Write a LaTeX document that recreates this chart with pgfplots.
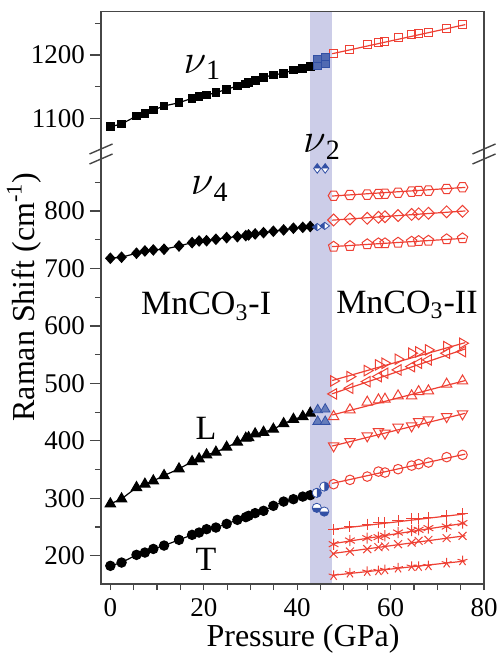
\documentclass[border=0pt]{standalone}
\usepackage{fontspec}
\setmainfont{Liberation Serif}
\usepackage{pgfplots}
\pgfplotsset{compat=1.18}
\usepackage{pgfplotstable}
\usetikzlibrary{plotmarks}

\definecolor{redm}{RGB}{238,64,52}
\definecolor{bluem}{RGB}{50,80,165}
\definecolor{band}{RGB}{204,205,232}
\definecolor{spine}{RGB}{70,70,70}

\pgfdeclareplotmark{hexagon}{%
  \pgfpathmoveto{\pgfqpoint{\pgfplotmarksize}{0pt}}%
  \pgfpathlineto{\pgfqpoint{0.5\pgfplotmarksize}{0.866\pgfplotmarksize}}%
  \pgfpathlineto{\pgfqpoint{-0.5\pgfplotmarksize}{0.866\pgfplotmarksize}}%
  \pgfpathlineto{\pgfqpoint{-\pgfplotmarksize}{0pt}}%
  \pgfpathlineto{\pgfqpoint{-0.5\pgfplotmarksize}{-0.866\pgfplotmarksize}}%
  \pgfpathlineto{\pgfqpoint{0.5\pgfplotmarksize}{-0.866\pgfplotmarksize}}%
  \pgfpathclose\pgfusepathqstroke}

\pgfplotstableread{
P nu1 nu4 L T
0 1086.7 717.7 290.4 182.6
2.4 1091.0 719.5 299.1 188.3
5.6 1103.6 726.5 318.8 201.7
7.4 1107.9 730.4 324.7 205.7
9.2 1113.1 732.2 330.4 212.0
11.5 1119.4 733.4 339.7 217.9
14.7 1124.6 739.1 351.3 227.8
17.5 1131.6 744.9 364.0 236.5
19.0 1134.1 747.8 368.7 240.5
20.6 1136.8 748.3 375.7 246.4
22.6 1140.4 750.8 380.3 249.2
24.9 1145.8 753.6 389.0 255.6
27.2 1151.0 755.3 397.7 262.6
29.0 1154.2 757.1 404.6 267.3
29.6 1156.0 758.3 405.7 269.6
31.0 1159.4 760.0 412.2 274.3
32.8 1164.8 762.3 415.0 278.3
34.9 1168.4 764.7 420.3 287.0
37.1 1171.1 767.0 430.0 294.4
39.2 1176.3 770.0 437.5 298.6
41.2 1179.0 771.5 442.3 303.1
42.8 1181.5 773.0 448.2 305.5
}\phaseI

\pgfplotstableread{
P sq hex dia pen rt lt up dn ci pl as xx st
47.8 1202.7 826.6 784.3 737.9 504.3 481.7 442.3 391.3 324.7 245.2 220.3 203.5 165.7
51.3 1209.0 827.8 786.1 739.1 511.8 491.6 453.9 398.8 332.2 251.0 226.6 207.5 169.9
55.0 1216.9 828.5 787.3 742.1 522.3 503.1 467.3 408.7 337.9 255.1 230.8 211.7 172.7
57.4 1219.4 829.6 789.0 743.8 532.2 511.8 471.3 416.2 346.6 257.9 232.5 215.1 173.9
58.8 1221.0 830.0 790.0 743.8 535.0 517.7 472.5 413.4 344.9 257.9 234.8 216.2 175.7
61.6 1227.3 831.8 792.0 744.9 542.1 523.5 478.3 423.8 350.8 260.9 240.5 220.3 178.6
64.5 1231.6 833.6 794.0 746.6 552.5 529.2 478.3 426.1 357.0 264.3 244.0 223.1 181.4
66.0 1234.3 834.8 795.0 747.8 554.8 535.1 485.7 433.6 359.5 264.3 245.2 226.1 181.4
68.1 1235.8 835.4 796.0 748.3 558.3 540.9 487.0 436.5 362.3 266.6 248.2 227.8 182.6
72.0 1242.2 838.3 798.5 750.8 564.0 552.5 498.6 442.3 371.7 269.6 251.0 230.8 187.3
75.4 1247.4 841.2 799.5 752.5 569.9 555.3 504.3 447.0 375.7 273.0 256.9 234.8 191.3
}\phaseII

\pgfplotstableread{
P sq hex dia pen rt lt up dn ci pl as xx st
47.5 1202 826 784 738 505 482 445 391 326 246 221 204 166
76.0 1248 841 800 752.5 571 560 505 448 377 273 257 235 191
}\fitII

\pgfplotsset{
  common/.style={
    scale only axis, width=191.5pt, xmin=-2, xmax=80, clip=false,
    axis line style={draw=none},
    tick align=outside, tick pos=left,
    major tick length=5.5pt, minor tick length=3pt,
    tick style={spine, line width=0.6pt},
    major x tick style={draw=none},
    ticklabel style={font=\fontsize{13.5}{13.5}\selectfont},
    /pgf/number format/assume math mode=true,
    /pgf/number format/1000 sep={},
  },
  rline/.style={redm, line width=0.6pt, forget plot},
  rmark/.style={only marks, redm, line width=0.5pt, forget plot},
}
\newcommand{\annfont}{\fontsize{17}{17}\selectfont}
\newcommand{\nufont}{\fontsize{20}{20}\selectfont}

\begin{document}
\begin{tikzpicture}
\path[use as bounding box] (-50.5pt,-34.5pt) rectangle (198pt,292pt);

% ---------------- bottom axis ----------------
\begin{axis}[common, at={(0,0)}, anchor=south west, height=214.5pt,
  ymin=151, ymax=897.4,
  xtick={0,20,40,60,80}, minor xtick={0,5,...,80},
  ytick={200,300,...,800}, minor ytick={250,350,...,850},
  xticklabel style={yshift=2pt}, yticklabel style={xshift=1pt}]
\addplot[fill=band, draw=none, forget plot] coordinates {(42.76,151) (47.47,151) (47.47,897.4) (42.76,897.4)} -- cycle;

% phase I lines and marks
\addplot[black, line width=0.6pt, mark=diamond*, mark size=2.5pt, mark options={xscale=1.2}] table[x=P,y=nu4]{\phaseI};
\addplot[black, line width=0.6pt, mark=triangle*, mark size=2.9pt] table[x=P,y=L]{\phaseI};
\addplot[black, line width=0.6pt, mark=*, mark size=2.3pt] table[x=P,y=T]{\phaseI};

% phase II fit lines
\addplot[rline] table[x=P,y=hex]{\fitII};
\addplot[rline] table[x=P,y=dia]{\fitII};
\addplot[rline] table[x=P,y=pen]{\fitII};
\addplot[rline] table[x=P,y=rt]{\fitII};
\addplot[rline] table[x=P,y=lt]{\fitII};
\addplot[rline] table[x=P,y=up]{\fitII};
\addplot[rline] table[x=P,y=dn]{\fitII};
\addplot[rline] table[x=P,y=ci]{\fitII};
\addplot[rline] table[x=P,y=pl]{\fitII};
\addplot[rline] table[x=P,y=as]{\fitII};
\addplot[rline] table[x=P,y=xx]{\fitII};
\addplot[rline] table[x=P,y=st]{\fitII};

% phase II marks
\addplot[rmark, mark=hexagon, mark size=2.7pt] table[x=P,y=hex]{\phaseII};
\addplot[rmark, mark=square, mark size=2.1pt, mark options={rotate=45}] table[x=P,y=dia]{\phaseII};
\addplot[rmark, mark=pentagon, mark size=2.7pt] table[x=P,y=pen]{\phaseII};
\addplot[rmark, mark=triangle, mark size=3pt, mark options={rotate=-90}] table[x=P,y=rt]{\phaseII};
\addplot[rmark, mark=triangle, mark size=3pt, mark options={rotate=90}] table[x=P,y=lt]{\phaseII};
\addplot[rmark, mark=triangle, mark size=3pt] table[x=P,y=up]{\phaseII};
\addplot[rmark, mark=triangle, mark size=3pt, mark options={rotate=180}] table[x=P,y=dn]{\phaseII};
\addplot[rmark, mark=o, mark size=2.4pt] table[x=P,y=ci]{\phaseII};
\addplot[rmark, mark=+, mark size=2.8pt] table[x=P,y=pl]{\phaseII};
\addplot[rmark, mark=asterisk, mark size=2.8pt] table[x=P,y=as]{\phaseII};
\addplot[rmark, mark=x, mark size=2.8pt] table[x=P,y=xx]{\phaseII};
\addplot[rmark, mark=star, mark size=2.6pt] table[x=P,y=st]{\phaseII};

% transition region (blue half-filled marks)
\addplot[only marks, mark=halfdiamond*, mark size=2.4pt, mark options={draw=bluem, fill=white, mark color=bluem}] coordinates {(44.3,874) (46.0,874)};
\addplot[only marks, mark=halfdiamond*, mark size=2.4pt, mark options={draw=bluem, fill=white, mark color=bluem, rotate=90}] coordinates {(44.3,772) (45.9,774)};
\addplot[only marks, mark=triangle*, mark size=2.8pt, mark options={draw=bluem, fill=bluem!75}] coordinates {(44.4,453.9) (46.0,455) (44.4,433.6) (46.0,433.6)};
\addplot[only marks, mark=halfcircle*, mark size=2.3pt, mark options={draw=bluem, fill=white, mark color=bluem, rotate=90}] coordinates {(44.2,309.6) (45.8,320.5)};
\addplot[only marks, mark=halfcircle*, mark size=2.3pt, mark options={draw=bluem, fill=white, mark color=bluem}] coordinates {(44.2,283.5) (45.8,277)};

% spines
\draw[spine, line width=0.7pt] (rel axis cs:0,1) -- (rel axis cs:0,0) -- (rel axis cs:1,0) -- (rel axis cs:1,1);

% annotations
\node[font=\annfont] at (axis cs:20.5,634) {MnCO\textsubscript{3}-I};
\node[font=\annfont] at (axis cs:63.5,637) {MnCO\textsubscript{3}-II};
\node[font=\nufont] at (axis cs:21.3,838) {$\nu$\textsubscript{4}};
\node[font=\annfont] at (axis cs:20.5,422.6) {L};
\node[font=\annfont] at (axis cs:20.5,193) {T};
\end{axis}

% ---------------- top axis ----------------
\begin{axis}[common, at={(0,214.5pt)}, anchor=south west, height=71.65pt,
  ymin=1042, ymax=1268.4,
  xtick=\empty, ytick={1100,1200}, minor ytick={1150,1250},
  yticklabel style={xshift=1pt}]
\addplot[fill=band, draw=none, forget plot] coordinates {(42.76,1042) (47.47,1042) (47.47,1268.4) (42.76,1268.4)} -- cycle;
\addplot[black, line width=0.6pt, mark=square*, mark size=1.9pt] table[x=P,y=nu1]{\phaseI};
\addplot[rline] table[x=P,y=sq]{\fitII};
\addplot[rmark, mark=square, mark size=2pt] table[x=P,y=sq]{\phaseII};
\addplot[only marks, mark=square*, mark size=1.9pt, mark options={draw=bluem, fill=bluem!85}] coordinates {(44.3,1193.7) (44.3,1182.6) (46.0,1196.8) (46.0,1185.8)};
\draw[spine, line width=0.7pt] (rel axis cs:0,0) -- (rel axis cs:0,1) -- (rel axis cs:1,1) -- (rel axis cs:1,0);
\node[font=\nufont] at (axis cs:19.7,1180) {$\nu$\textsubscript{1}};
\end{axis}

% nu2 label (in the gap between the two panels)
\node[font=\nufont] at (110.5pt,218.5pt) {$\nu$\textsubscript{2}};

% axis break marks
\foreach \yy in {212.5pt,217.5pt} {
  \draw[spine, line width=0.7pt] (-5.75pt,\yy-2.5pt) -- (5.75pt,\yy+2.5pt);
  \draw[spine, line width=0.7pt] (185.75pt,\yy-2.5pt) -- (197.25pt,\yy+2.5pt);
}

% axis titles
\node[rotate=90, font=\fontsize{16}{16}\selectfont] at (-38.5pt,143.5pt) {Raman Shift (cm\textsuperscript{-1})};
\node[font=\fontsize{16}{16}\selectfont] at (101pt,-27.5pt) {Pressure (GPa)};
\end{tikzpicture}
\end{document}
